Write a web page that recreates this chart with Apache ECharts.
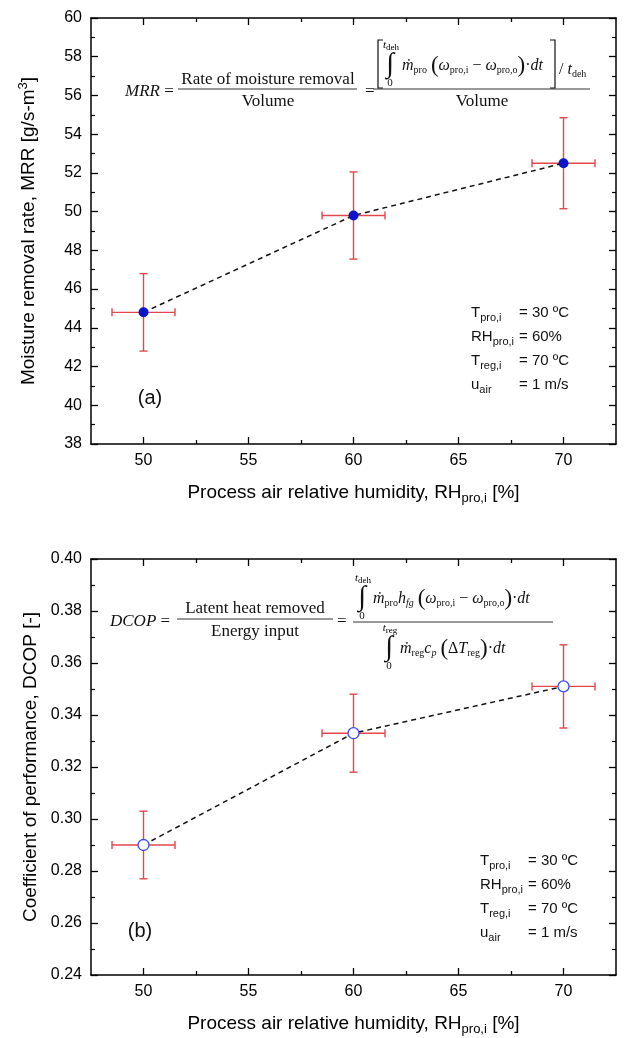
<!DOCTYPE html>
<html>
<head>
<meta charset="utf-8">
<script src="https://cdn.jsdelivr.net/npm/echarts@6/dist/echarts.min.js"></script>
<style>html,body{margin:0;padding:0;background:#fff;}#c{width:625px;height:1038px;}</style>
</head>
<body>
<div id="c"></div>
<script>
// ---- data ----
const rh = [50, 60, 70];
const rhErr = [1.5, 1.5, 1.5];
const mrr = [44.8, 49.8, 52.5];
const mrrErr = [2.0, 2.25, 2.35];
const dcop = [0.290, 0.333, 0.351];
const dcopErr = [0.013, 0.015, 0.016];
const xTicks = [50, 55, 60, 65, 70];
const xMinor = [52.5, 57.5, 62.5, 67.5];

const SANS = 'Liberation Sans';
const SERIF = 'Liberation Serif';
const chart = echarts.init(document.getElementById('c'), null, {renderer: 'canvas'});

const axLine = {show: true, lineStyle: {color: '#000', width: 1.5}};
const tickIn = {show: true, inside: true, length: 7, lineStyle: {color: '#000', width: 1.3}};
const minorIn = {show: true, splitNumber: 2, length: 4, lineStyle: {color: '#000', width: 1.2}};

function mkX(grid, pos, kind, name) {
  const major = kind !== 'minor';
  return {
    type: 'value', gridIndex: grid, position: pos, min: 47.5, max: 72.5,
    axisLine: major ? axLine : {show: false},
    axisTick: {show: true, inside: true, length: major ? 7 : 4, customValues: major ? xTicks : xMinor,
      lineStyle: {color: '#000', width: 1.3}},
    minorTick: {show: false},
    splitLine: {show: false},
    axisLabel: kind === 'label' ? {show: true, color: '#000', fontFamily: SANS, fontSize: 16, margin: 9,
      customValues: xTicks} : {show: false},
    name: name || '', nameLocation: 'middle', nameGap: 36,
    nameTextStyle: {color: '#000', fontFamily: SANS, fontSize: 19,
      rich: {s: {fontFamily: SANS, fontSize: 13, padding: [12, 0, 0, 0], color: '#000'}}}
  };
}

function yAx(grid, pos, show, min, max, interval, name, dec, gap) {
  return {
    type: 'value', gridIndex: grid, position: pos, min: min, max: max, interval: interval,
    axisLine: axLine,
    axisTick: tickIn,
    minorTick: minorIn,
    splitLine: {show: false},
    axisLabel: show ? {show: true, color: '#000', fontFamily: SANS, fontSize: 16, margin: 9,
      formatter: v => dec ? v.toFixed(dec) : String(v)} : {show: false},
    name: name || '', nameLocation: 'middle', nameGap: gap || 0, nameRotate: 90,
    nameTextStyle: {color: '#000', fontFamily: SANS, fontSize: 19,
      rich: {sup: {fontFamily: SANS, fontSize: 13, padding: [0, 0, 10, 0], color: '#000'}}}
  };
}

function errRender(params, api) {
  const x = api.value(0), y = api.value(1), ex = api.value(2), ey = api.value(3);
  const l = api.coord([x - ex, y]), r = api.coord([x + ex, y]);
  const t = api.coord([x, y + ey]), b = api.coord([x, y - ey]);
  const cap = 4;
  const st = {stroke: '#e2474c', lineWidth: 1.4};
  const ln = (x1, y1, x2, y2) => ({type: 'line', shape: {x1, y1, x2, y2}, style: st});
  return {type: 'group', children: [
    ln(l[0], l[1], r[0], r[1]),
    ln(l[0], l[1] - cap, l[0], l[1] + cap),
    ln(r[0], r[1] - cap, r[0], r[1] + cap),
    ln(t[0], t[1], b[0], b[1]),
    ln(t[0] - cap, t[1], t[0] + cap, t[1]),
    ln(b[0] - cap, b[1], b[0] + cap, b[1])
  ]};
}

const xName = 'Process air relative humidity, RH{s|pro,i} [%]';

// ---- equation graphics ----
const fs = 17;
const eqRich = {
  i: {fontFamily: SERIF, fontStyle: 'italic', fontSize: fs, color: '#111'},
  n: {fontFamily: SERIF, fontSize: fs, color: '#111'},
  s: {fontFamily: SERIF, fontSize: 11, color: '#111', padding: [9, 0, 0, 0]},
  si: {fontFamily: SERIF, fontStyle: 'italic', fontSize: 11, color: '#111', padding: [9, 0, 0, 0]},
  p: {fontFamily: SERIF, fontSize: 24, color: '#111'}
};
const numRich = {
  i: {fontFamily: SERIF, fontStyle: 'italic', fontSize: 16, color: '#111'},
  n: {fontFamily: SERIF, fontSize: 16, color: '#111'},
  s: {fontFamily: SERIF, fontSize: 10, color: '#111', padding: [9, 0, 0, 0]},
  si: {fontFamily: SERIF, fontStyle: 'italic', fontSize: 10, color: '#111', padding: [9, 0, 0, 0]},
  p: {fontFamily: SERIF, fontSize: 23, color: '#111'}
};
function txt(x, y, text, align, rich) {
  return {type: 'text', x: x, y: y, silent: true,
    style: {text: text, align: align || 'left', verticalAlign: 'middle', rich: rich || eqRich,
      fontFamily: SERIF, fontSize: fs, fill: '#111'}};
}
function hline(x1, x2, y) {
  return {type: 'line', silent: true, shape: {x1: x1, y1: y, x2: x2, y2: y}, style: {stroke: '#333', lineWidth: 1}};
}
function integral(x, yc, top) {
  return [
    {type: 'text', x: x, y: yc, silent: true, style: {text: '∫', align: 'center', verticalAlign: 'middle', fontFamily: SERIF, fontSize: 28, fill: '#111'}},
    {type: 'text', x: x + 1, y: yc - 20, silent: true, style: {text: '{si|t}{s2|' + top + '}', align: 'center', verticalAlign: 'middle',
      rich: {si: {fontFamily: SERIF, fontStyle: 'italic', fontSize: 11, color: '#111'}, s2: {fontFamily: SERIF, fontSize: 9, color: '#111', padding: [5, 0, 0, 0]}}}},
    {type: 'text', x: x, y: yc + 18, silent: true, style: {text: '0', align: 'center', verticalAlign: 'middle', fontFamily: SERIF, fontSize: 11, fill: '#111'}}
  ];
}
function bracket(x, y1, y2, dir) {
  return {type: 'polyline', silent: true, shape: {points: [[x + dir * 5, y1], [x, y1], [x, y2], [x + dir * 5, y2]]},
    style: {stroke: '#111', lineWidth: 1.2, fill: null}};
}

const graphics = [].concat(
  // top equation
  [txt(125, 92, '{i|MRR} {n|=}'),
   hline(178, 357, 89),
   txt(268, 80, 'Rate of moisture removal', 'center'),
   txt(268, 102, 'Volume', 'center'),
   txt(365, 92, '='),
   hline(373, 590, 89),
   bracket(378, 40, 88, 1),
   bracket(555, 40, 88, -1),
   txt(402, 66, '{i|ṁ}{s|pro}{n| }{p|(}{i|ω}{s|pro,i}{n| − }{i|ω}{s|pro,o}{p|)}{n|·}{i|dt}', 'left', numRich),
   txt(559, 70, '{n|/ }{i|t}{s|deh}', 'left', numRich),
   txt(482, 102, 'Volume', 'center')],
  integral(390, 65, 'deh'),
  // bottom equation
  [txt(110, 622, '{i|DCOP} {n|=}'),
   hline(177, 333, 619),
   txt(255, 609, 'Latent heat removed', 'center'),
   txt(255, 632, 'Energy input', 'center'),
   txt(337, 622, '='),
   hline(353, 553, 622),
   txt(373, 599, '{i|ṁ}{s|pro}{i|h}{si|fg}{n| }{p|(}{i|ω}{s|pro,i}{n| − }{i|ω}{s|pro,o}{p|)}{n|·}{i|dt}', 'left', numRich),
   txt(400, 649, '{i|ṁ}{s|reg}{i|c}{si|p}{n| }{p|(}{n|Δ}{i|T}{s|reg}{p|)}{n|·}{i|dt}', 'left', numRich)],
  integral(362, 598, 'deh'),
  integral(389, 648, 'reg')
);

// annotations
const annRich = {
  n: {fontFamily: SANS, fontSize: 15, color: '#111'},
  s: {fontFamily: SANS, fontSize: 11, color: '#111', padding: [9, 0, 0, 0]}
};
function ann(x, y, t) {
  return {type: 'text', x: x, y: y, silent: true,
    style: {text: t, rich: annRich, fontFamily: SANS, fontSize: 15, fill: '#111', align: 'left', verticalAlign: 'middle'}};
}
const annLabels = ['{n|T}{s|pro,i}', '{n|RH}{s|pro,i}', '{n|T}{s|reg,i}', '{n|u}{s|air}'];
const annValues = ['= 30 ºC', '= 60%', '= 70 ºC', '= 1 m/s'];
function annBlock(x0, x1, y0) {
  const out = [];
  annLabels.forEach((l, i) => {
    out.push(ann(x0, y0 + i * 24, l));
    out.push(ann(x1, y0 + i * 24, annValues[i]));
  });
  return out;
}
graphics.push(...annBlock(471, 519, 313));
graphics.push(...annBlock(480, 528, 861));
graphics.push({type: 'text', x: 150, y: 398, silent: true, style: {text: '(a)', fontFamily: SANS, fontSize: 20, fill: '#111', align: 'center', verticalAlign: 'middle'}});
graphics.push({type: 'text', x: 140, y: 931, silent: true, style: {text: '(b)', fontFamily: SANS, fontSize: 20, fill: '#111', align: 'center', verticalAlign: 'middle'}});

const option = {
  animation: false,
  backgroundColor: '#fff',
  grid: [
    {left: 91, right: 9, top: 18, height: 426},
    {left: 91, right: 9, top: 559, height: 416}
  ],
  xAxis: [
    mkX(0, 'bottom', 'label', xName),
    mkX(0, 'top', 'major'),
    mkX(1, 'bottom', 'label', xName),
    mkX(1, 'top', 'major'),
    mkX(0, 'bottom', 'minor'),
    mkX(0, 'top', 'minor'),
    mkX(1, 'bottom', 'minor'),
    mkX(1, 'top', 'minor')
  ],
  yAxis: [
    yAx(0, 'left', true, 38, 60, 2, 'Moisture removal rate, MRR [g/s-m{sup|3}]', 0, 51),
    yAx(0, 'right', false, 38, 60, 2),
    yAx(1, 'left', true, 0.24, 0.40, 0.02, 'Coefficient of performance, DCOP [-]', 2, 51),
    yAx(1, 'right', false, 0.24, 0.40, 0.02)
  ],
  series: [
    {type: 'custom', xAxisIndex: 0, yAxisIndex: 0, z: 2, renderItem: errRender,
     data: rh.map((x, i) => [x, mrr[i], rhErr[i], mrrErr[i]])},
    {type: 'line', xAxisIndex: 0, yAxisIndex: 0, z: 3, data: rh.map((x, i) => [x, mrr[i]]),
     lineStyle: {color: '#111', width: 1.5, type: [5, 4]},
     symbol: 'circle', symbolSize: 10, itemStyle: {color: '#0a14c8', borderWidth: 0}},
    {type: 'custom', xAxisIndex: 2, yAxisIndex: 2, z: 2, renderItem: errRender,
     data: rh.map((x, i) => [x, dcop[i], rhErr[i], dcopErr[i]])},
    {type: 'line', xAxisIndex: 2, yAxisIndex: 2, z: 3, data: rh.map((x, i) => [x, dcop[i]]),
     lineStyle: {color: '#111', width: 1.5, type: [5, 4]},
     symbol: 'circle', symbolSize: 11, itemStyle: {color: '#fff', borderColor: '#3a4cf0', borderWidth: 1.3}}
  ],
  graphic: graphics
};
chart.setOption(option);
</script>
</body>
</html>
